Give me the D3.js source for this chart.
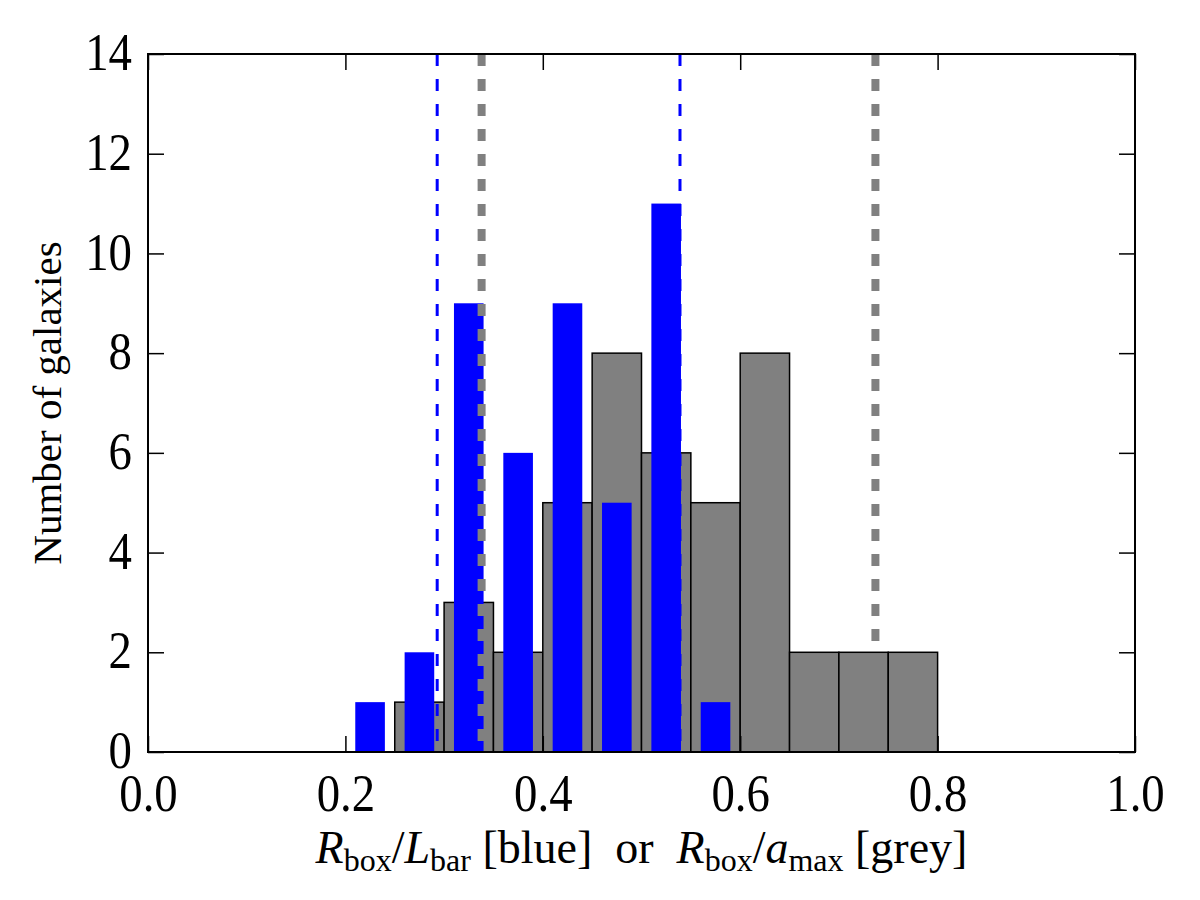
<!DOCTYPE html>
<html>
<head>
<meta charset="utf-8">
<script src="https://cdn.jsdelivr.net/npm/d3@7"></script>
<style>
  body { margin: 0; background: #fff; }
  text { font-family: "Liberation Serif", "DejaVu Serif", serif; fill: #000; }
</style>
</head>
<body>
<div id="chart"></div>
<script>
// Histogram data.
const greyBinEdges = [0.25, 0.30, 0.35, 0.40, 0.45, 0.50, 0.55, 0.60, 0.65, 0.70, 0.75, 0.80]
const greyCounts = [1, 3, 2, 5, 8, 6, 5, 8, 2, 2, 2]
const blueBinEdges = [0.20, 0.25, 0.30, 0.35, 0.40, 0.45, 0.50, 0.55, 0.60]
const blueCounts = [1, 2, 9, 6, 9, 5, 11, 1]
const blueRWidth = 0.6
const blueLines = [0.293, 0.539]
const greyLines = [0.338, 0.737]
const xTicks = [0.0, 0.2, 0.4, 0.6, 0.8, 1.0]
const yTicks = [0, 2, 4, 6, 8, 10, 12, 14]

const width = 1200
const height = 900
const margin = { top: 54, right: 65, bottom: 148, left: 148 }
const innerW = width - margin.left - margin.right
const innerH = height - margin.top - margin.bottom
const squeeze = 0.9 // tick labels look a bit condensed

const svg = d3.select('#chart')
  .append('svg')
  .attr('width', width)
  .attr('height', height)

const g = svg.append('g')
  .attr('transform', `translate(${margin.left},${margin.top})`)

/**
 * Scales.
 */
const x = d3.scaleLinear().domain([0, 1]).range([0, innerW])
const y = d3.scaleLinear().domain([0, 14]).range([innerH, 0])

const greyBins = greyCounts.map((c, i) => ({ x0: greyBinEdges[i], x1: greyBinEdges[i + 1], n: c }))
const blueBins = blueCounts.map((c, i) => {
  const w = blueBinEdges[i + 1] - blueBinEdges[i]
  const pad = w * (1 - blueRWidth) / 2
  return { x0: blueBinEdges[i] + pad, x1: blueBinEdges[i + 1] - pad, n: c }
})

// Grey histogram
g.append('g').selectAll('rect')
  .data(greyBins)
  .enter()
  .append('rect')
    .attr('x', d => x(d.x0))
    .attr('y', d => y(d.n))
    .attr('width', d => x(d.x1) - x(d.x0))
    .attr('height', d => y(0) - y(d.n))
    .attr('fill', '#808080')
    .attr('stroke', '#000')
    .attr('stroke-width', 1.5)

// Blue histogram
g.append('g').selectAll('rect')
  .data(blueBins)
  .enter()
  .append('rect')
    .attr('x', d => x(d.x0))
    .attr('y', d => y(d.n))
    .attr('width', d => x(d.x1) - x(d.x0))
    .attr('height', d => y(0) - y(d.n))
    .attr('fill', '#0000ff')

// Vertical dashed lines
g.append('g').selectAll('line')
  .data(greyLines)
  .enter()
  .append('line')
    .attr('x1', d => x(d)).attr('x2', d => x(d))
    .attr('y1', y(0)).attr('y2', y(14))
    .attr('stroke', '#808080')
    .attr('stroke-width', 8)
    .attr('stroke-dasharray', '12,13')
    .attr('stroke-dashoffset', -11)
g.append('g').selectAll('line')
  .data(blueLines)
  .enter()
  .append('line')
    .attr('x1', d => x(d)).attr('x2', d => x(d))
    .attr('y1', y(0)).attr('y2', y(14))
    .attr('stroke', '#0000ff')
    .attr('stroke-width', 3)
    .attr('stroke-dasharray', '12,13')
    .attr('stroke-dashoffset', -11)

/**
 * Axes: inward ticks on all four sides.
 */
const tickLen = 16
const fmtX = d3.format('.1f')
const xAxis = g.append('g')
  .attr('transform', `translate(0,${innerH})`)
  .call(d3.axisBottom(x).tickValues(xTicks).tickSizeInner(-tickLen).tickSizeOuter(0).tickPadding(22).tickFormat(fmtX))
g.append('g')
  .call(d3.axisTop(x).tickValues(xTicks).tickSizeInner(-tickLen).tickSizeOuter(0).tickFormat(''))
const yAxis = g.append('g')
  .call(d3.axisLeft(y).tickValues(yTicks).tickSizeInner(-tickLen).tickSizeOuter(0).tickPadding(16))
g.append('g')
  .attr('transform', `translate(${innerW},0)`)
  .call(d3.axisRight(y).tickValues(yTicks).tickSizeInner(-tickLen).tickSizeOuter(0).tickFormat(''))

g.selectAll('.domain').remove()
g.selectAll('.tick line').attr('stroke', '#000').attr('stroke-width', 1.5)
g.selectAll('.tick text')
  .attr('font-family', '"Liberation Serif", serif')
  .attr('font-size', 52)
  .attr('fill', '#000')
yAxis.selectAll('.tick text')
  .attr('x', -16 / squeeze)
  .attr('dy', '0.3em')
  .attr('transform', `scale(${squeeze},1)`)
xAxis.selectAll('.tick text')
  .attr('transform', `scale(${squeeze},1)`)

// Frame
g.append('rect')
  .attr('width', innerW)
  .attr('height', innerH)
  .attr('fill', 'none')
  .attr('stroke', '#000')
  .attr('stroke-width', 2)

/**
 * Axis labels.
 */
svg.append('text')
  .attr('transform', `translate(61,${margin.top + innerH / 2}) rotate(-90)`)
  .attr('text-anchor', 'middle')
  .attr('font-size', 41)
  .text('Number of galaxies')

const xl = svg.append('text')
  .attr('transform', `translate(${margin.left + innerW / 2},863)`)
  .attr('text-anchor', 'middle')
  .attr('font-size', 46)
  .attr('xml:space', 'preserve')
  .style('white-space', 'pre')
const part = (t, opts = {}) => {
  const s = xl.append('tspan').text(t)
  if (opts.italic) s.attr('font-style', 'italic')
  if (opts.sub) s.attr('font-size', 32)
  if (opts.dy) s.attr('dy', opts.dy)
  return s
}
part('R', { italic: true })
part('box', { sub: true, dy: 8 })
part('/', { dy: -8 })
part('L', { italic: true })
part('bar', { sub: true, dy: 8 })
part(' [blue]  or  ', { dy: -8 })
part('R', { italic: true })
part('box', { sub: true, dy: 8 })
part('/', { dy: -8 })
part('a', { italic: true })
part('max', { sub: true, dy: 8 })
part(' [grey]', { dy: -8 })
</script>
</body>
</html>
